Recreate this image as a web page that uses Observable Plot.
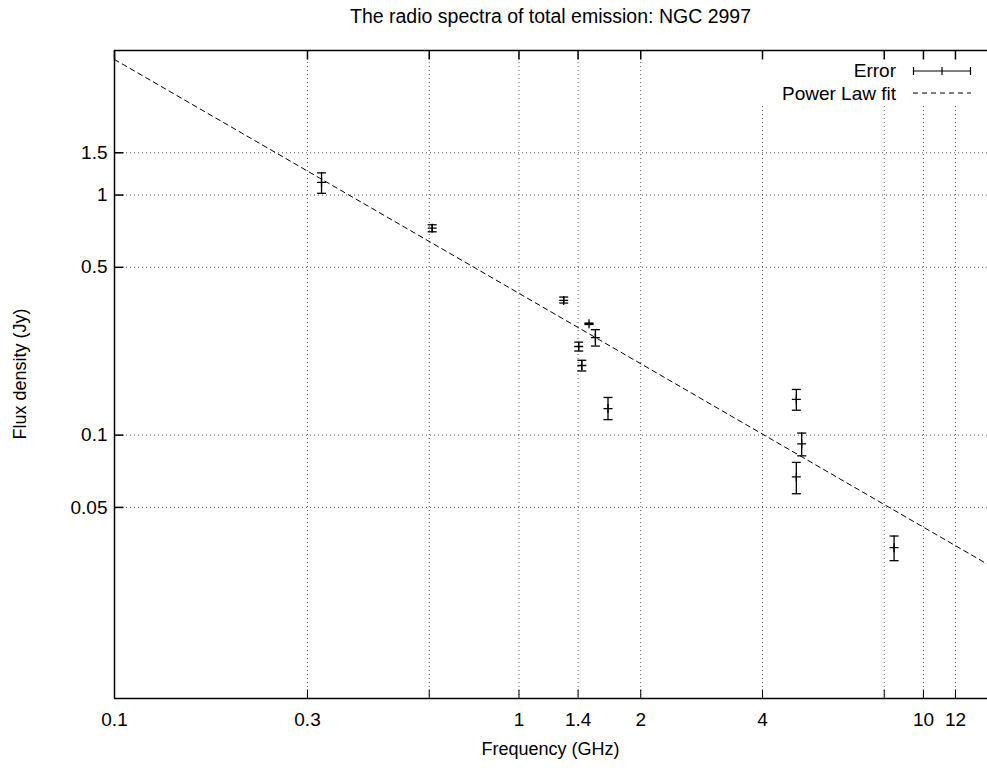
<!DOCTYPE html>
<html>
<head>
<meta charset="utf-8">
<script src="https://cdn.jsdelivr.net/npm/d3@7"></script>
<script src="https://cdn.jsdelivr.net/npm/@observablehq/plot@0.6"></script>
<style>
  body { margin: 0; background: white; font-family: "Liberation Sans", Arial, sans-serif; }
  #wrap { position: relative; width: 987px; height: 770px; overflow: hidden; }
  .lbl { position: absolute; font-size: 18px; color: black; white-space: nowrap; line-height: 20px; }
</style>
</head>
<body>
<div id="wrap"></div>
<script>
// ---- data ----
const freq   = [0.325, 0.61, 1.29, 1.49, 1.405, 1.43, 1.545, 1.66, 4.85, 5.0, 4.85, 8.46];
const flux   = [1.13, 0.728, 0.364, 0.291, 0.234, 0.195, 0.255, 0.129, 0.141, 0.092, 0.067, 0.034];
const fluxLo = [1.017, 0.703, 0.355, 0.289, 0.224, 0.185, 0.235, 0.116, 0.127, 0.082, 0.057, 0.030];
const fluxHi = [1.237, 0.752, 0.376, 0.293, 0.244, 0.205, 0.275, 0.1435, 0.155, 0.102, 0.077, 0.038];

// power-law fit line, end points
const fitFreq = [0.1, 14.4];
const fitFlux = [3.67, 0.029];

const xTicks = [0.1, 0.3, 0.6, 1, 1.4, 2, 4, 8, 10, 12];
const yTicks = [0.05, 0.1, 0.5, 1, 1.5];
const xDomain = [0.1, 14.4];
const yDomain = [0.008, 4];

const titleText = "The radio spectra of total emission: NGC 2997";
const xLabel = "Frequency (GHz)";
const yLabel = "Flux density (Jy)";
const legendLabels = ["Error", "Power Law fit"];

// ---- build ----
const points = freq.map((f, i) => ({f, s: flux[i], lo: fluxLo[i], hi: fluxHi[i]}));
const fit = fitFreq.map((f, i) => ({f, s: fitFlux[i]}));

const capSym  = {draw(ctx) { ctx.moveTo(-4.5, 0); ctx.lineTo(4.5, 0); }};
const plusSym = {draw(ctx) { ctx.moveTo(-4.5, 0); ctx.lineTo(4.5, 0); ctx.moveTo(0, -4.5); ctx.lineTo(0, 4.5); }};
const tickUp    = {draw(ctx) { ctx.moveTo(0, 0); ctx.lineTo(0, -9); }};
const tickDown  = {draw(ctx) { ctx.moveTo(0, 0); ctx.lineTo(0, 9); }};
const tickRight = {draw(ctx) { ctx.moveTo(0, 0); ctx.lineTo(9, 0); }};

const gridStyle = {stroke: "#555", strokeWidth: 1, strokeDasharray: "1,3"};

const chart = Plot.plot({
  width: 987,
  height: 770,
  marginLeft: 114,
  marginRight: 0,
  marginTop: 50,
  marginBottom: 72,
  x: {type: "log", domain: xDomain},
  y: {type: "log", domain: yDomain},
  style: {fontFamily: "'Liberation Sans', Arial, sans-serif", fontSize: "19px", color: "black", background: "white", overflow: "visible"},
  marks: [
    Plot.ruleX(xTicks.filter(d => d !== xDomain[0]), gridStyle),
    Plot.ruleY(yTicks, gridStyle),
    // frame (left, top, bottom)
    Plot.ruleX([xDomain[0]], {stroke: "black", strokeWidth: 1.5}),
    Plot.ruleY([yDomain[0]], {stroke: "black", strokeWidth: 1.5}),
    Plot.ruleY([yDomain[1]], {stroke: "black", strokeWidth: 1.5}),
    // inward ticks
    Plot.dot(xTicks, {x: d => d, frameAnchor: "bottom", symbol: tickUp, stroke: "black", fill: "none", strokeWidth: 1}),
    Plot.dot(xTicks, {x: d => d, frameAnchor: "top", symbol: tickDown, stroke: "black", fill: "none", strokeWidth: 1.5}),
    Plot.dot(yTicks, {y: d => d, frameAnchor: "left", symbol: tickRight, stroke: "black", fill: "none", strokeWidth: 1.5}),
    Plot.axisX(xTicks, {tickSize: 0, tickPadding: 14, tickFormat: d => String(d), label: null, fontSize: 19}),
    Plot.axisY(yTicks, {tickSize: 0, tickPadding: 7, tickFormat: d => String(d), label: null, fontSize: 19}),
    // power-law fit
    Plot.line(fit, {x: "f", y: "s", stroke: "black", strokeWidth: 1, strokeDasharray: "5,4"}),
    // error bars
    Plot.ruleX(points, {x: "f", y1: "lo", y2: "hi", stroke: "black", strokeWidth: 1.3}),
    Plot.dot(points, {x: "f", y: "lo", symbol: capSym, stroke: "black", fill: "none", strokeWidth: 1.3}),
    Plot.dot(points, {x: "f", y: "hi", symbol: capSym, stroke: "black", fill: "none", strokeWidth: 1.3}),
    Plot.dot(points, {x: "f", y: "s", symbol: plusSym, stroke: "black", fill: "none", strokeWidth: 1.3})
  ]
});

const wrap = document.getElementById("wrap");
chart.style.position = "absolute";
chart.style.left = "0px";
chart.style.top = "0px";
wrap.appendChild(chart);

// title
const t = document.createElement("div");
t.className = "lbl";
t.style.left = "114px"; t.style.width = "873px"; t.style.textAlign = "center"; t.style.top = "6px";
t.style.fontSize = "19.5px";
t.textContent = titleText;
wrap.appendChild(t);

// x label
const xl = document.createElement("div");
xl.className = "lbl";
xl.style.left = "114px"; xl.style.width = "873px"; xl.style.textAlign = "center"; xl.style.top = "739px";
xl.textContent = xLabel;
wrap.appendChild(xl);

// y label
const yl = document.createElement("div");
yl.className = "lbl";
yl.style.left = "20px"; yl.style.top = "374px";
yl.style.transform = "translate(-50%, -50%) rotate(-90deg)";
yl.textContent = yLabel;
wrap.appendChild(yl);

// legend (key box with opaque background, like gnuplot); svg spans y 52..106
const ns = "http://www.w3.org/2000/svg";
const lg = document.createElementNS(ns, "svg");
lg.setAttribute("width", 287); lg.setAttribute("height", 54);
lg.style.position = "absolute"; lg.style.left = "700px"; lg.style.top = "52px";
lg.style.overflow = "visible";
lg.setAttribute("font-family", "'Liberation Sans', Arial, sans-serif");
lg.setAttribute("font-size", "19");
function el(name, attrs, text) {
  const e = document.createElementNS(ns, name);
  for (const k in attrs) e.setAttribute(k, attrs[k]);
  if (text) e.textContent = text;
  lg.appendChild(e);
  return e;
}
el("rect", {x: 0, y: 10, width: 287, height: 44, fill: "white"});
el("text", {x: 196, y: 25, "text-anchor": "end"}, legendLabels[0]);
el("text", {x: 196, y: 48, "text-anchor": "end"}, legendLabels[1]);
el("path", {d: "M213,19H271M213.5,15V23M270.5,15V23M242,15V23", stroke: "black", "stroke-width": 1.2, fill: "none"});
el("path", {d: "M213,41H271", stroke: "black", "stroke-width": 1, "stroke-dasharray": "5,4", fill: "none"});
wrap.appendChild(lg);
</script>
</body>
</html>
